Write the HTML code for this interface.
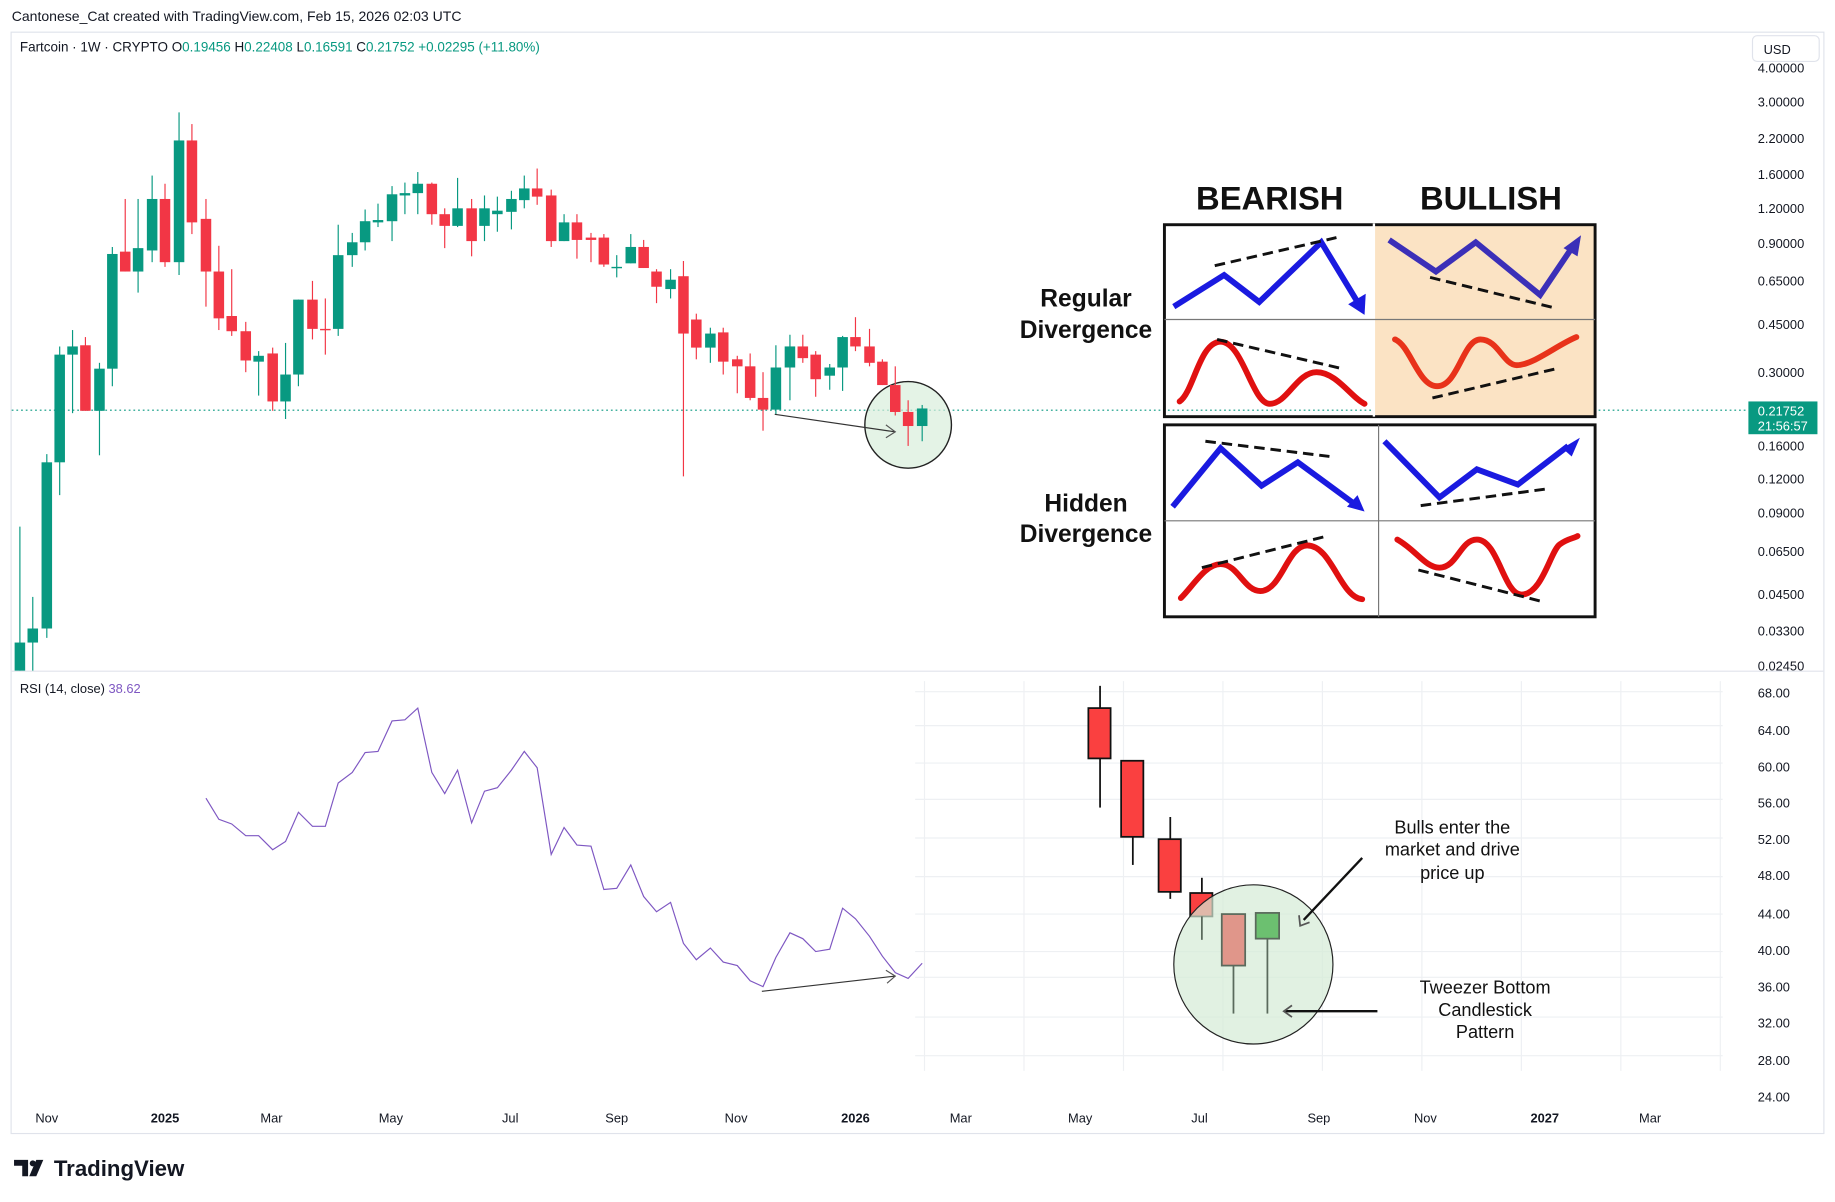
<!DOCTYPE html>
<html><head><meta charset="utf-8"><style>
html,body{margin:0;padding:0;background:#fff;overflow:hidden}
svg{display:block}
text{font-family:"Liberation Sans",sans-serif}
</style></head><body>
<svg id="s" width="1835" height="1202" viewBox="0 0 1568 1027" preserveAspectRatio="none" xmlns="http://www.w3.org/2000/svg">
<rect width="1568" height="1027" fill="#fff"/>
<text x="10" y="18" font-size="12" fill="#131722">Cantonese_Cat created with TradingView.com, Feb 15, 2026 02:03 UTC</text>
<rect x="9.5" y="27.5" width="1549" height="941" fill="none" stroke="#e0e3eb"/>
<line x1="10" y1="573.5" x2="1558" y2="573.5" stroke="#e0e3eb"/>
<text x="17" y="44" font-size="11.5" fill="#131722">Fartcoin · 1W · CRYPTO <tspan>O</tspan><tspan fill="#089981">0.19456</tspan> H<tspan fill="#089981">0.22408</tspan> L<tspan fill="#089981">0.16591</tspan> C<tspan fill="#089981">0.21752</tspan> <tspan fill="#089981">+0.02295 (+11.80%)</tspan></text>
<rect x="1497.5" y="30.5" width="57" height="22" rx="4" fill="#fff" stroke="#e0e3eb"/>
<text x="1507" y="46" font-size="11" fill="#131722">USD</text>
<g font-size="11" fill="#131722" font-family="DejaVu Sans,sans-serif">
<text x="1502" y="62">4.00000</text>
<text x="1502" y="91">3.00000</text>
<text x="1502" y="122">2.20000</text>
<text x="1502" y="153">1.60000</text>
<text x="1502" y="182">1.20000</text>
<text x="1502" y="212">0.90000</text>
<text x="1502" y="244">0.65000</text>
<text x="1502" y="281">0.45000</text>
<text x="1502" y="322">0.30000</text>
<text x="1502" y="385">0.16000</text>
<text x="1502" y="413">0.12000</text>
<text x="1502" y="442">0.09000</text>
<text x="1502" y="475">0.06500</text>
<text x="1502" y="512">0.04500</text>
<text x="1502" y="543">0.03300</text>
<text x="1502" y="573">0.02450</text>
<text x="1502" y="596">68.00</text><text x="1502" y="628">64.00</text><text x="1502" y="659">60.00</text><text x="1502" y="690">56.00</text><text x="1502" y="721">52.00</text><text x="1502" y="752">48.00</text><text x="1502" y="785">44.00</text><text x="1502" y="816">40.00</text><text x="1502" y="847">36.00</text><text x="1502" y="878">32.00</text><text x="1502" y="910">28.00</text><text x="1502" y="941">24.00</text>
</g>
<rect x="1497.5" y="1" width="1" height="1" fill="none"/>
<line x1="10" y1="350.5" x2="1494" y2="350.5" stroke="#089981" stroke-dasharray="1.5 2.5"/>
<rect x="1494" y="343" width="59" height="28" fill="#089981"/>
<text x="1502" y="355" font-size="11" fill="#fff" font-family="DejaVu Sans,sans-serif">0.21752</text>
<text x="1502" y="368" font-size="11" fill="#fff" font-family="DejaVu Sans,sans-serif">21:56:57</text>
<g id="tz-grid" stroke="#eef0f3" stroke-width="1"></g>
<g id="cand"></g>
<circle cx="776" cy="363" r="37" fill="#d9eedb" fill-opacity="0.7" stroke="#222" stroke-width="1.2"/>
<g id="cand2"></g>
<line x1="662" y1="354" x2="765" y2="369" stroke="#333" stroke-width="1"/>
<polyline points="757,363 765,369 757,374" fill="none" stroke="#555" stroke-width="1"/>
<text x="17" y="592" font-size="11" fill="#131722">RSI (14, close) <tspan fill="#7e57c2">38.62</tspan></text>
<polyline id="rsi" fill="none" stroke="#7e57c2" stroke-width="1"/>
<line x1="651" y1="847" x2="765" y2="834" stroke="#333" stroke-width="1"/>
<polyline points="757,829 765,834 758,840" fill="none" stroke="#555" stroke-width="1"/>
<g font-size="11" fill="#131722" text-anchor="middle">
<text x="40" y="959">Nov</text><text x="141" y="959" font-weight="bold">2025</text><text x="232" y="959">Mar</text><text x="334" y="959">May</text><text x="436" y="959">Jul</text><text x="527" y="959">Sep</text><text x="629" y="959">Nov</text><text x="731" y="959" font-weight="bold">2026</text><text x="821" y="959">Mar</text><text x="923" y="959">May</text><text x="1025" y="959">Jul</text><text x="1127" y="959">Sep</text><text x="1218" y="959">Nov</text><text x="1320" y="959" font-weight="bold">2027</text><text x="1410" y="959">Mar</text>
</g>
<!-- divergence chart -->
<g>
<text x="1085" y="179" font-size="28" font-weight="bold" text-anchor="middle" fill="#111">BEARISH</text>
<text x="1274" y="179" font-size="28" font-weight="bold" text-anchor="middle" fill="#111">BULLISH</text>
<rect x="1174" y="191" width="189" height="165" fill="#fbe3c4"/>
<rect x="995" y="192" width="368" height="164" fill="none" stroke="#111" stroke-width="2.5"/>
<line x1="1174" y1="191" x2="1174" y2="356" stroke="#fff" stroke-width="2"/>
<line x1="995" y1="273" x2="1363" y2="273" stroke="#777" stroke-width="1"/>
<rect x="995" y="363" width="368" height="164" fill="none" stroke="#111" stroke-width="2.5"/>
<line x1="1178" y1="363" x2="1178" y2="527" stroke="#777"/>
<line x1="995" y1="445" x2="1363" y2="445" stroke="#777"/>
<g font-size="21" font-weight="bold" text-anchor="middle" fill="#111">
<text x="928" y="262">Regular</text><text x="928" y="289">Divergence</text>
<text x="928" y="437">Hidden</text><text x="928" y="463">Divergence</text>
</g>
<g fill="none" stroke-width="5" stroke-linejoin="miter">
<polyline points="1003,262 1046,235 1076,258 1129,207 1160,258" stroke="#1a1ae0"/>
<polyline points="1187,205 1227,232 1261,207 1316,252 1343,212" stroke="#3b2fb8"/>
<polyline points="1002,433 1043,383 1078,415 1109,395 1158,431" stroke="#1a1ae0"/>
<polyline points="1183,377 1230,425 1262,401 1297,414 1340,381" stroke="#1a1ae0"/>
<path d="M1008,343 C1020,335 1025,292 1043,292 C1062,292 1070,345 1085,345 C1100,345 1108,318 1125,318 C1142,318 1155,340 1166,345" stroke="#e01010" stroke-linecap="round"/>
<path d="M1192,290 C1205,295 1212,330 1228,330 C1246,330 1250,290 1265,290 C1280,290 1285,312 1296,312 C1310,312 1330,295 1347,288" stroke="#e8321a" stroke-linecap="round"/>
<path d="M1009,511 C1020,500 1030,482 1043,482 C1058,482 1063,505 1077,505 C1095,505 1100,466 1117,466 C1138,466 1145,510 1164,512" stroke="#e01010" stroke-linecap="round"/>
<path d="M1194,461 C1210,470 1218,485 1230,485 C1245,485 1248,461 1262,461 C1280,461 1285,508 1300,508 C1318,508 1325,470 1333,465 C1340,460 1345,460 1348,458" stroke="#e01010" stroke-linecap="round"/>
</g>
<g fill="none" stroke="#111" stroke-width="2.5" stroke-dasharray="9 5">
<line x1="1038" y1="227" x2="1142" y2="203"/><line x1="1040" y1="290" x2="1147" y2="315"/>
<line x1="1222" y1="237" x2="1328" y2="263"/><line x1="1224" y1="340" x2="1330" y2="315"/>
<line x1="1030" y1="377" x2="1136" y2="390"/><line x1="1027" y1="485" x2="1134" y2="458"/>
<line x1="1214" y1="432" x2="1320" y2="418"/><line x1="1212" y1="487" x2="1318" y2="514"/>
</g>
<polygon points="1152,260 1167,251 1166,269" fill="#1a1ae0"/>
<polygon points="1336,212 1351,201 1348,219" fill="#3b2fb8"/>
<polygon points="1151,433 1160,423 1166,437" fill="#1a1ae0"/>
<polygon points="1335,383 1350,374 1343,390" fill="#1a1ae0"/>
</g>
<!-- tweezer image -->
<g stroke="#111" stroke-width="1.5">
<line x1="940" y1="586" x2="940" y2="690"/><rect x="930" y="605" width="19" height="43" fill="#fa4040"/>
<line x1="968" y1="700" x2="968" y2="739"/><rect x="958" y="650" width="19" height="65" fill="#fa4040"/>
<line x1="1000" y1="698" x2="1000" y2="768"/><rect x="990" y="717" width="19" height="45" fill="#fa4040"/>
<line x1="1027" y1="750" x2="1027" y2="763"/><rect x="1017" y="763" width="19" height="20" fill="#fa4040"/>
</g>
<ellipse cx="1071" cy="824" rx="68" ry="68" fill="#d4ebd6" fill-opacity="0.7" stroke="#222" stroke-width="1"/>
<g stroke="#5a6a5c" stroke-width="1.5">
<line x1="1027" y1="783" x2="1027" y2="803"/>
<line x1="1054" y1="825" x2="1054" y2="866"/><rect x="1044" y="781" width="20" height="44" fill="#e0968a"/>
<line x1="1083" y1="802" x2="1083" y2="866"/><rect x="1073" y="780" width="20" height="22" fill="#6cc070"/>
</g>
<line x1="1164" y1="733" x2="1114" y2="786" stroke="#111" stroke-width="2"/>
<polyline points="1110,782 1111,791 1119,788" fill="none" stroke="#555" stroke-width="1.5"/>
<line x1="1177" y1="864" x2="1098" y2="864" stroke="#111" stroke-width="2"/>
<polyline points="1104,859 1097,864 1104,869" fill="none" stroke="#555" stroke-width="1.5"/>
<g font-size="15.5" text-anchor="middle" fill="#111" font-family="DejaVu Sans Condensed,DejaVu Sans,sans-serif">
<text x="1241" y="712">Bulls enter the</text><text x="1241" y="731">market and drive</text><text x="1241" y="751">price up</text>
<text x="1269" y="849">Tweezer Bottom</text><text x="1269" y="868">Candlestick</text><text x="1269" y="887">Pattern</text>
</g>
<!-- logo -->
<path d="M12,991 h12 v14 h-5 v-9 h-7z" fill="#131722"/>
<circle cx="28" cy="994" r="2.6" fill="#131722"/>
<path d="M31,991 h6 l-6,14 h-6z" fill="#131722"/>
<text x="46" y="1005" font-size="19" font-weight="bold" fill="#131722">TradingView</text>
</svg>
<script>
var NS="http://www.w3.org/2000/svg";
function el(p,t,a){var e=document.createElementNS(NS,t);for(var k in a)e.setAttribute(k,a[k]);p.appendChild(e);return e;}
var C=[[17,'g',549,573,450,573],[28,'g',537,549,510,573],[40,'g',395,537,388,545],[51,'g',303,395,296,423],[62,'g',296,303,282,353],[73,'r',295,351,288,351],[85,'g',315,351,310,389],[96,'g',217,315,211,330],[107,'r',215,232,170,232],[118,'g',212,232,170,250],[130,'g',170,214,150,224],[141,'r',170,224,157,228],[153,'g',120,224,96,235],[164,'r',120,190,106,200],[176,'r',187,232,170,262],[187,'r',232,272,210,282],[198,'r',270,283,230,287],[210,'r',283,308,275,318],[221,'g',304,309,300,338],[233,'r',302,343,297,351],[244,'g',320,343,293,358],[255,'g',256,320,256,330],[267,'r',256,281,240,290],[278,'r',281,282,255,303],[289,'g',218,281,192,287],[301,'g',207,218,199,228],[312,'g',189,207,179,214],[323,'g',188,190,174,194],[335,'g',166,189,159,206],[346,'g',165,167,156,183],[357,'g',157,165,147,183],[369,'r',157,183,156,192],[380,'r',183,193,178,212],[391,'g',178,193,152,194],[403,'r',178,206,170,219],[414,'g',178,193,167,206],[425,'g',180,183,168,198],[437,'g',170,181,163,196],[448,'g',161,171,150,178],[459,'r',161,168,144,175],[471,'r',167,206,162,211],[482,'g',190,206,183,206],[493,'r',190,205,183,221],[505,'r',203,205,199,224],[516,'r',203,226,200,228],[527,'g',228,229,218,237],[539,'g',211,225,200,225],[550,'r',211,229,205,229],[561,'r',232,245,230,259],[573,'g',239,247,230,255],[584,'r',236,285,223,407],[595,'r',273,297,268,307],[607,'g',285,297,280,310],[618,'r',284,309,280,320],[630,'r',307,313,304,336],[641,'r',313,340,302,342],[652,'r',340,350,318,368],[663,'g',314,350,295,354],[675,'g',296,314,286,342],[686,'r',296,306,286,310],[697,'r',303,324,300,339],[709,'g',314,321,311,333],[720,'g',288,314,287,334],[731,'r',288,296,271,300],[743,'r',296,310,281,313],[754,'r',309,329,307,329],[765,'r',329,352,313,355],[776,'r',352,364,342,381],[788,'g',349,364,346,377]];
var g1=document.getElementById('cand'),g2=document.getElementById('cand2');
C.forEach(function(c,i){var g=i>=66?g2:g1;var col=c[1]=='g'?'#089981':'#f23645';
el(g,'line',{x1:c[0],x2:c[0],y1:c[4],y2:c[5],stroke:col,'stroke-width':1});
el(g,'rect',{x:c[0]-4.5,y:c[2],width:9,height:Math.max(1.2,c[3]-c[2]),fill:col});});
var R=[[176,682],[187,700],[198,704],[210,714],[221,714],[233,726],[244,719],[255,694],[267,706],[278,706],[289,669],[301,660],[312,643],[323,642],[335,616],[346,615],[357,605],[369,660],[380,678],[391,658],[403,703],[414,676],[425,673],[437,658],[448,642],[459,656],[471,730],[482,707],[493,722],[505,723],[516,760],[527,759],[539,739],[550,766],[561,779],[573,771],[584,806],[595,820],[607,810],[618,822],[630,825],[641,838],[652,843],[663,818],[675,797],[686,802],[697,813],[709,811],[720,776],[731,785],[743,800],[754,817],[765,831],[776,836],[788,823]];
document.getElementById('rsi').setAttribute('points',R.map(function(p){return p.join(',')}).join(' '));
var tg=document.getElementById('tz-grid');
[591,620,652,683,716,749,781,813,835,869,902].forEach(function(y){el(tg,'line',{x1:782,x2:1472,y1:y,y2:y});});
[790,875,960,1045,1130,1215,1300,1385,1470].forEach(function(x){el(tg,'line',{x1:x,x2:x,y1:582,y2:915});});
</script>
</body></html>
